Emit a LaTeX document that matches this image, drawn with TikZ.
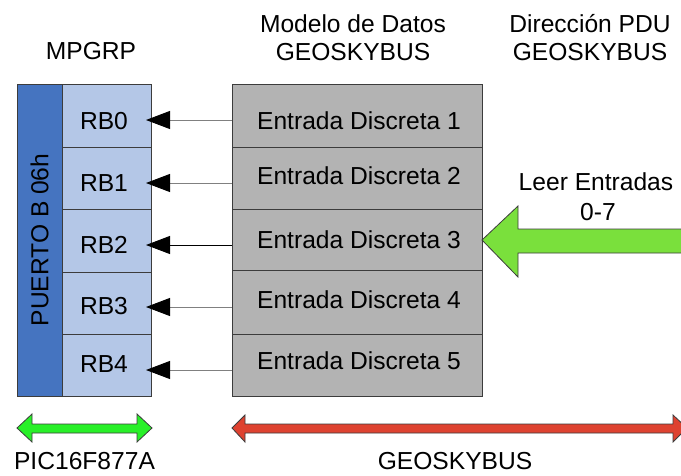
\documentclass[tikz,border=0pt]{standalone}
\usepackage{fontspec}
\setmainfont{Liberation Sans}
\usetikzlibrary{arrows.meta}
\definecolor{portblue}{RGB}{69,116,192}
\definecolor{rbblue}{RGB}{180,199,231}
\definecolor{cellgrey}{RGB}{179,179,179}
\definecolor{biggreen}{RGB}{122,224,60}
\definecolor{bargreen}{RGB}{40,240,40}
\definecolor{barred}{RGB}{222,66,48}
\definecolor{edgegrey}{RGB}{60,60,60}
\tikzset{
  txt/.style={font=\fontsize{24.6}{28}\selectfont, inner sep=0pt},
  cellbox/.style={draw=edgegrey, line width=0.8pt, inner sep=0pt, anchor=north west},
  rbcell/.style={cellbox, fill=rbblue, minimum width=89pt},
  grcell/.style={cellbox, fill=cellgrey, minimum width=250pt},
  feed/.style={line width=0.9pt, -{Triangle[length=24pt,width=18pt,black]}},
  fatarrow/.style={draw=edgegrey, line width=0.8pt, line join=miter}
}
\begin{document}
\begin{tikzpicture}[x=1pt,y=-1pt]
\useasboundingbox[fill=white] (0,0) rectangle (681,475);

% headings
\node[txt, anchor=base] (hmp) at (91,59) {MPGRP};
\node[txt, anchor=base] (hmd1) at (353,32) {Modelo de Datos};
\node[txt, anchor=base] (hmd2) at (353,60) {GEOSKYBUS};
\node[txt, anchor=base] (hdp1) at (590,32) {Dirección PDU};
\node[txt, anchor=base] (hdp2) at (590,60) {GEOSKYBUS};

% port column
\node[cellbox, fill=portblue, minimum width=45pt, minimum height=312pt] (port) at (17,84) {};
\node[txt, rotate=90] (portlbl) at (39.5,240) {PUERTO B 06h};

% RB cells
\node[rbcell, minimum height=63pt] (rb0) at (62,84) {};
\node[rbcell, minimum height=62pt] (rb1) at (62,147) {};
\node[rbcell, minimum height=63pt] (rb2) at (62,209) {};
\node[rbcell, minimum height=62pt] (rb3) at (62,272) {};
\node[rbcell, minimum height=62pt] (rb4) at (62,334) {};
\node[txt] (rbl0) at (104,121) {RB0};
\node[txt] (rbl1) at (104,183.5) {RB1};
\node[txt] (rbl2) at (104,244.5) {RB2};
\node[txt] (rbl3) at (104,306) {RB3};
\node[txt] (rbl4) at (104,364.5) {RB4};

% grey cells
\node[grcell, minimum height=63pt] (g0) at (232,84) {};
\node[grcell, minimum height=62pt] (g1) at (232,147) {};
\node[grcell, minimum height=61pt] (g2) at (232,209) {};
\node[grcell, minimum height=64pt] (g3) at (232,270) {};
\node[grcell, minimum height=62pt] (g4) at (232,334) {};
\node[txt] (gl0) at (359,120.5) {Entrada Discreta 1};
\node[txt] (gl1) at (359,175.5) {Entrada Discreta 2};
\node[txt] (gl2) at (359,239.5) {Entrada Discreta 3};
\node[txt] (gl3) at (359,299.5) {Entrada Discreta 4};
\node[txt] (gl4) at (359,361) {Entrada Discreta 5};

% feed arrows
\coordinate (t0) at (146,120);
\coordinate (t1) at (146,183);
\coordinate (t2) at (146,245);
\coordinate (t3) at (146,307);
\coordinate (t4) at (146,370);
\draw[feed, draw=gray] (g0.west |- t0) -- (t0);
\draw[feed, draw=gray] (g1.west |- t1) -- (t1);
\draw[feed, draw=black] (g2.west |- t2) -- (t2);
\draw[feed, draw=gray] (g3.west |- t3) -- (t3);
\draw[feed, draw=gray] (g4.west |- t4) -- (t4);

% big green input arrow
\draw[fatarrow, fill=biggreen] (482,240) -- (518,206) -- (518,229) -- (700,229)
  -- (700,253) -- (518,253) -- (518,277) -- cycle;
\node[txt, anchor=base] (leer1) at (596,190) {Leer Entradas};
\node[txt, anchor=base] (leer2) at (598,220) {0-7};

% bottom range arrows
\draw[fatarrow, fill=bargreen] (17,428) -- (32,414) -- (32,424) -- (137,424) -- (137,414)
  -- (152,428) -- (137,442) -- (137,433) -- (32,433) -- (32,442) -- cycle;
\draw[fatarrow, fill=barred] (232,428) -- (245,415) -- (245,424) -- (673,424) -- (673,415)
  -- (687,428) -- (673,442) -- (673,433) -- (245,433) -- (245,442) -- cycle;
\node[txt, anchor=base] (pic) at (84.5,469) {PIC16F877A};
\node[txt, anchor=base] (geo) at (455,469) {GEOSKYBUS};
\end{tikzpicture}
\end{document}
